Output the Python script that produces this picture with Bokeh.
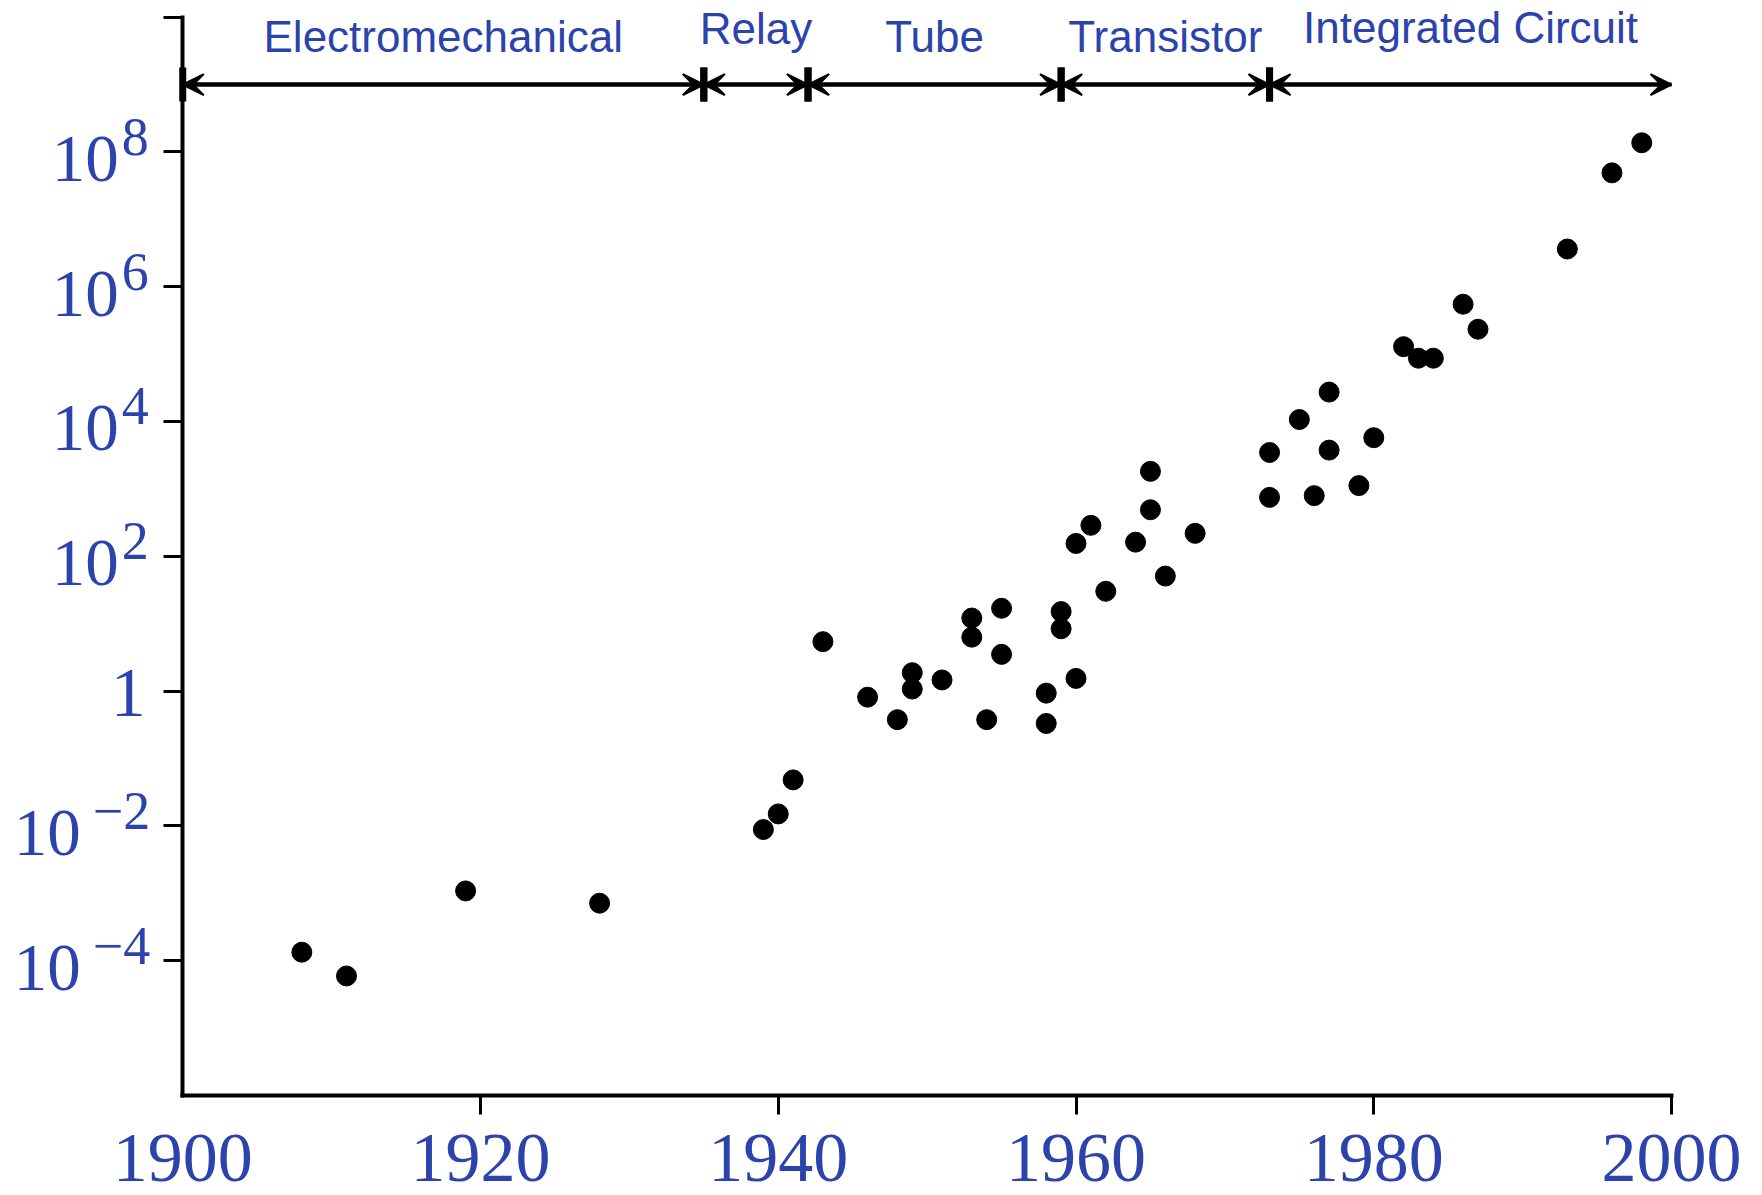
from bokeh.plotting import figure
from bokeh.models import FixedTicker, Label, Arrow, VeeHead, TeeHead
from bokeh.embed import file_html
from bokeh.resources import INLINE

# ---------------- data ----------------
years = [1908, 1911, 1919, 1928, 1939, 1940, 1941, 1943, 1946, 1948,
         1949, 1949, 1951, 1953, 1953, 1954, 1955, 1955, 1958, 1958,
         1959, 1959, 1960, 1960, 1961, 1962, 1964, 1965, 1965, 1966,
         1968, 1973, 1973, 1975, 1976, 1977, 1977, 1979, 1980, 1982,
         1983, 1984, 1986, 1987, 1993, 1996, 1998]
values = [1.33e-4, 5.9e-5, 1.08e-3, 7.1e-4, 8.8e-3, 1.5e-2, 4.8e-2, 5.4, 0.81, 0.376,
          1.87, 1.07, 1.46, 12.1, 6.3, 0.376, 16.9, 3.5, 0.93, 0.33,
          15.1, 8.4, 155, 1.54, 288, 30.2, 162, 1820, 490, 50.8,
          219, 3470, 748, 10700, 794, 27300, 3760, 1120, 5750, 1.29e5,
          8.7e4, 8.7e4, 5.5e5, 2.34e5, 3.63e6, 4.9e7, 1.37e8]

x_tick_values = [1900, 1920, 1940, 1960, 1980, 2000]
x_tick_labels = ["1900", "1920", "1940", "1960", "1980", "2000"]

y_tick_values = [1e-4, 1e-2, 1, 1e2, 1e4, 1e6, 1e8]
y_tick_bases = ["10", "10", "1", "10", "10", "10", "10"]
y_tick_exponents = ["\u22124", "\u22122", "", "2", "4", "6", "8"]
y_axis_top_tick = 1e10

x_axis_bounds = (1900, 2000)
y_axis_bounds = (1e-6, 1e10)

period_names = ["Electromechanical", "Relay", "Tube", "Transistor", "Integrated Circuit"]
period_starts = [1900, 1935, 1942, 1959, 1973]
period_ends = [1935, 1942, 1959, 1973, 2000]
period_arrow_level = 1e9

# ---------------- styling ----------------
BLUE = "#2c43ab"
SERIF = "Liberation Serif"
SANS = "Liberation Sans"

# the frame fills the whole canvas; the axes are pinned inside it with bounds
p = figure(width=1762, height=1195,
           x_range=(1887.76, 2006.11), y_range=(10 ** -7.487, 10 ** 10.248),
           y_axis_type="log",
           output_backend="svg", toolbar_location=None,
           min_border=0, min_border_left=0, min_border_right=0,
           min_border_top=0, min_border_bottom=0)
p.outline_line_color = None
p.grid.visible = False
p.background_fill_color = "white"
p.border_fill_color = "white"

xa = p.xaxis[0]
ya = p.yaxis[0]
xa.fixed_location = y_axis_bounds[0]
ya.fixed_location = x_axis_bounds[0]
xa.bounds = x_axis_bounds
ya.bounds = y_axis_bounds
xa.ticker = FixedTicker(ticks=[t for t in x_tick_values if t != x_axis_bounds[0]])
ya.ticker = FixedTicker(ticks=y_tick_values + [y_axis_top_tick])
for ax in (xa, ya):
    ax.axis_line_width = 4
    ax.axis_line_color = "black"
    ax.axis_line_cap = "square"
    ax.major_tick_line_width = 3
    ax.major_tick_line_color = "black"
    ax.major_tick_out = 19
    ax.major_tick_in = 0
    ax.minor_tick_out = 0
    ax.minor_tick_in = 0
    ax.major_label_text_font_size = "0px"
    ax.major_label_standoff = 0
xa.major_label_overrides = {t: "" for t in x_tick_values}
ya.major_label_overrides = {t: "" for t in y_tick_values + [y_axis_top_tick]}

# data points
p.scatter(years, values, size=20, fill_color="black", line_color="black")

# x tick labels
for t, lab in zip(x_tick_values, x_tick_labels):
    p.add_layout(Label(x=t, y=y_axis_bounds[0], text=lab, text_align="center",
                       text_baseline="alphabetic", y_offset=-63,
                       text_font=SERIF, text_font_size="70px", text_color=BLUE))

# y tick labels: base + superscript exponent
for t, base, ex in zip(y_tick_values, y_tick_bases, y_tick_exponents):
    if ex == "":
        p.add_layout(Label(x=x_axis_bounds[0], y=t, text=base, text_align="right",
                           text_baseline="alphabetic", x_offset=-37, y_offset=-2,
                           text_font=SERIF, text_font_size="70px", text_color=BLUE))
        continue
    neg = ex.startswith("\u2212")
    base_right = -102 if neg else -64
    exp_left = -90 if neg else -61
    p.add_layout(Label(x=x_axis_bounds[0], y=t, text=base, text_align="right",
                       text_baseline="alphabetic", x_offset=base_right, y_offset=-7,
                       text_font=SERIF, text_font_size="67px", text_color=BLUE))
    p.add_layout(Label(x=x_axis_bounds[0], y=t, text=ex, text_align="left",
                       text_baseline="alphabetic", x_offset=exp_left, y_offset=15,
                       text_font=SERIF, text_font_size="54px", text_color=BLUE))

# period arrows with end bars
label_lift = {"Relay": 56, "Integrated Circuit": 57}
n = len(period_names)
for i, (name, s, e) in enumerate(zip(period_names, period_starts, period_ends)):
    last = (i == n - 1)
    p.add_layout(Arrow(x_start=s, x_end=e, y_start=period_arrow_level, y_end=period_arrow_level,
                       line_width=4, line_color="black",
                       start=TeeHead(size=34, line_width=7, line_color="black"),
                       end=None if last else TeeHead(size=34, line_width=7, line_color="black")))
    p.add_layout(Arrow(x_start=s, x_end=e, y_start=period_arrow_level, y_end=period_arrow_level,
                       line_width=4, line_color="black",
                       start=VeeHead(size=21, fill_color="black", line_color="black", line_width=2),
                       end=VeeHead(size=21, fill_color="black", line_color="black", line_width=2)))
    p.add_layout(Label(x=(s + e) / 2, y=period_arrow_level, text=name,
                       text_align="center", text_baseline="alphabetic",
                       y_offset=label_lift.get(name, 48),
                       text_font=SANS, text_font_size="44px", text_color=BLUE))

open("out.html", "w").write(file_html(p, INLINE))
